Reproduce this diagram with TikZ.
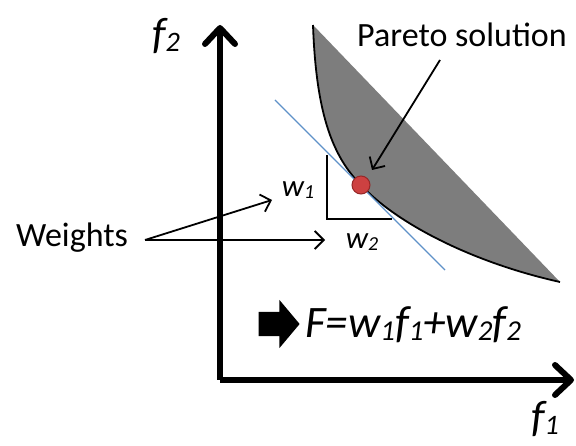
\documentclass[tikz,border=0pt]{standalone}
\usepackage{fontspec}
\setmainfont{Carlito}
\usepackage{tikz}
\usetikzlibrary{arrows.meta,shapes.arrows}

\definecolor{regiongray}{RGB}{125,125,125}
\definecolor{tangentblue}{RGB}{95,145,200}
\definecolor{dotred}{RGB}{205,65,65}
\definecolor{dotrim}{RGB}{150,40,40}
\newcommand{\ix}[1]{\raisebox{-0.06em}{\scalebox{0.64}{#1}}}

\begin{document}
\begin{tikzpicture}[x=1pt, y=-1pt, >={Straight Barb[length=9pt,width=18pt]},
  axis/.style={line width=6pt, -{Straight Barb[length=16pt,width=30pt,round]}},
  thin/.style={line width=1.8pt},
  lbl/.style={inner sep=0pt, font=\fontsize{34}{38}\selectfont},
  var/.style={inner sep=0pt, font=\fontsize{31}{34}\selectfont\itshape}]

  \useasboundingbox (0,0) rectangle (576,446);

  % Define coordinates for the axes
  \coordinate (O) at (220,380);
  \coordinate (Ytip) at (220,25);
  \coordinate (Xtip) at (574,380);
  \node[var, font=\fontsize{44}{48}\selectfont\itshape] (f2) at (166,36) {f\ix{2}};
  \node[var, font=\fontsize{44}{48}\selectfont\itshape] (f1) at (545,419) {f\ix{1}};

  % Feasible region
  \fill[regiongray] (313,25) .. controls (316,110) and (331,155) .. (361,185)
    .. controls (395,222) and (470,262) .. (560,282) -- cycle;
  \draw[line width=1.8pt] (313,25) .. controls (316,110) and (331,155) .. (361,185)
    .. controls (395,222) and (470,262) .. (560,282);

  % Weight triangle and tangent line
  \coordinate (t1) at (327,155);
  \coordinate (t2) at (327,219);
  \coordinate (t3) at (392,219);
  \draw[thin] (t1) -- (t2) -- (t3);
  \coordinate (L1) at (275,100);
  \coordinate (L2) at (445,270);
  \draw[tangentblue, line width=1.3pt] (L1) -- (L2);
  \node[circle, fill=dotred, draw=dotrim, line width=1pt, minimum size=18pt, inner sep=0pt] (sol) at (361,185) {};

  % Labels
  \node[lbl] (pareto) at (462,35) {Pareto solution};
  \node[lbl] (weights) at (72,238) {Weights};
  \node[var] (w1) at (298,190) {w\ix{1}};
  \node[var] (w2) at (362,242) {w\ix{2}};
  \node[single arrow, fill=black, inner sep=12pt, minimum height=41pt,
    single arrow head extend=12pt, single arrow tip angle=100] (fat) at (274,324) {};
  \node[var, anchor=west, font=\fontsize{45}{48}\selectfont\itshape] (F) at (305,325)
    {F=w\ix{1}f\ix{1}+w\ix{2}f\ix{2}};

  % Draw arrows
  \coordinate (Pstart) at (440,60);
  \coordinate (Pend) at (372,170);
  \coordinate (Wstart) at (145,240);
  \coordinate (Wa) at (272,200);
  \coordinate (Wb) at (325,240);
  \draw[axis] (O) to (Ytip);
  \draw[axis] (O) to (Xtip);
  \draw[thin, ->] (Pstart) to (Pend);
  \draw[thin, ->] (Wstart) to (Wa);
  \draw[thin, ->] (Wstart) to (Wb);

\end{tikzpicture}
\end{document}
